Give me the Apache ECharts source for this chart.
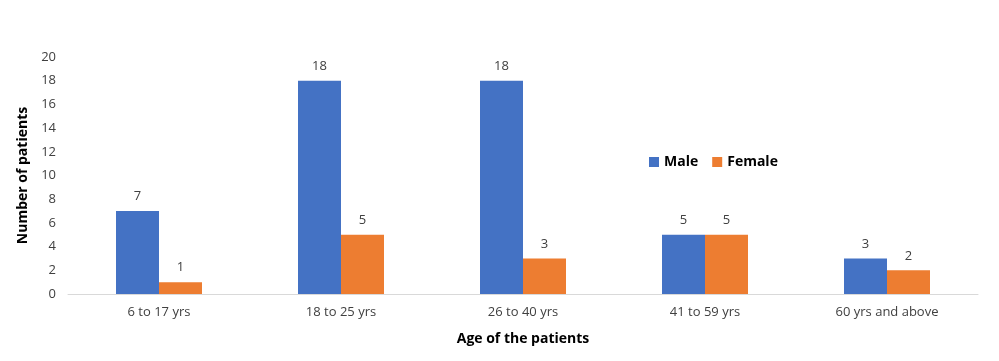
<!DOCTYPE html>
<html><head><meta charset="utf-8">
<script src="https://cdn.jsdelivr.net/npm/echarts@6/dist/echarts.min.js"></script>
<style>html,body{margin:0;padding:0;background:#fff}#c{width:999px;height:361px}</style>
</head><body><div id="c"></div>
<script>
const categories = ['6 to 17 yrs', '18 to 25 yrs', '26 to 40 yrs', '41 to 59 yrs', '60 yrs and above'];
const maleValues = [7, 18, 18, 5, 3];
const femaleValues = [1, 5, 3, 5, 2];
const seriesNames = ['Male', 'Female'];
const yTicks = [0, 2, 4, 6, 8, 10, 12, 14, 16, 18, 20];

const font = 'Open Sans, sans-serif';
const chart = echarts.init(document.getElementById('c'), null, {renderer: 'canvas'});
const labelStyle = {show: true, position: 'top', distance: 8, color: '#404040', fontSize: 13, fontFamily: font};
chart.setOption({
  animation: false,
  grid: {left: 68, right: 21, top: 57, bottom: 67},
  legend: {
    data: seriesNames, left: 644, top: 150, itemWidth: 10, itemHeight: 10, itemGap: 14,
    icon: 'rect',
    textStyle: {fontSize: 14, fontWeight: 'bold', color: '#000', fontFamily: font}
  },
  xAxis: {
    type: 'category', data: categories,
    name: 'Age of the patients', nameLocation: 'middle', nameGap: 38,
    nameTextStyle: {fontSize: 14, fontWeight: 'bold', color: '#000', fontFamily: font},
    axisLine: {lineStyle: {color: '#d9d9d9', width: 1}},
    axisTick: {show: false},
    axisLabel: {color: '#404040', fontSize: 13, margin: 12, fontFamily: font}
  },
  yAxis: {
    type: 'value', min: yTicks[0], max: yTicks[yTicks.length - 1], interval: 2,
    name: 'Number of patients', nameLocation: 'middle', nameGap: 37,
    nameTextStyle: {fontSize: 14, fontWeight: 'bold', color: '#000', fontFamily: font},
    axisLine: {show: false}, axisTick: {show: false},
    splitLine: {show: false},
    axisLabel: {color: '#404040', fontSize: 13, margin: 12, fontFamily: font}
  },
  series: [
    {name: seriesNames[0], type: 'bar', data: maleValues, barWidth: 43, barGap: '0%', itemStyle: {color: '#4472c4'}, label: labelStyle},
    {name: seriesNames[1], type: 'bar', data: femaleValues, barWidth: 43, barGap: '0%', itemStyle: {color: '#ed7d31'}, label: labelStyle}
  ]
});
</script></body></html>
